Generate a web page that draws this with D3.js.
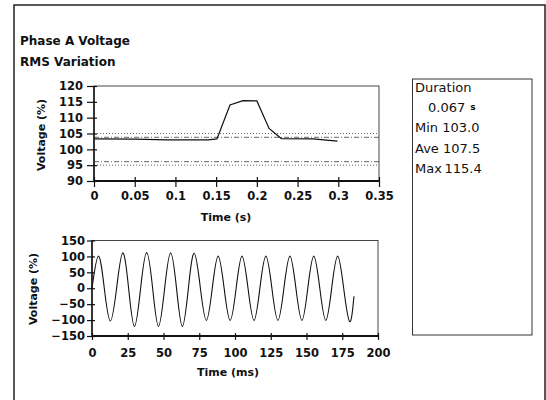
<!DOCTYPE html>
<html>
<head>
<meta charset="utf-8">
<script src="https://d3js.org/d3.v7.min.js"></script>
<style>
  body { margin:0; background:white; }
  text { font-family:"DejaVu Sans", sans-serif; fill:#111; }
  .tick text { font-size:11.5px; font-weight:bold; }
  .title { font-size:12px; font-weight:bold; }
  .axtitle { font-size:11px; font-weight:bold; }
  .stat { font-size:13px; }
</style>
</head>
<body>
<script>
// rms variation (top plot)
var rmsTime = [0, 0.05, 0.09, 0.14, 0.151, 0.167, 0.183, 0.2, 0.215, 0.23, 0.269, 0.299];
var rmsVolt = [103.3, 103.2, 103.0, 103.0, 103.3, 114.0, 115.4, 115.3, 106.6, 103.4, 103.3, 102.6];
var limitVals = [105, 103.8, 96.1, 95];
var limitDash = ["1,2", "5,2,1,2", "5,2,1,2", "1,2"];
var rmsXTicks = [0, 0.05, 0.1, 0.15, 0.2, 0.25, 0.3, 0.35];
var rmsXLabels = ["0", "0.05", "0.1", "0.15", "0.2", "0.25", "0.3", "0.35"];
var rmsYTicks = [90, 95, 100, 105, 110, 115, 120];

// waveform (bottom plot), peaks / zero crossings / troughs
var waveTime = [0, 4.5, 8.6, 12.8, 17.2, 21.5, 25.6, 29.7, 34.0, 38.2, 42.4, 46.5, 50.8, 55.0, 59.1, 63.2,
                67.4, 71.5, 75.8, 80.0, 84.1, 88.2, 92.4, 96.6, 100.8, 104.9, 109.1, 113.3, 117.4, 121.6,
                125.8, 130.0, 134.2, 138.4, 142.6, 146.8, 150.9, 155.1, 159.3, 163.5, 167.6, 171.8, 176.0,
                180.2, 183.2];
var waveVolt = [0, 101, 0, -103, 0, 111, 0, -120, 0, 112, 0, -120, 0, 111, 0, -120,
                0, 110, 0, -101, 0, 101, 0, -101, 0, 101, 0, -101, 0, 101,
                0, -101, 0, 101, 0, -101, 0, 101, 0, -101, 0, 101, 0,
                -105, -25];
var waveXTicks = [0, 25, 50, 75, 100, 125, 150, 175, 200];
var waveYTicks = [-150, -100, -50, 0, 50, 100, 150];

var statNames = ["Min", "Ave", "Max"];
var statVals = [103.0, 107.5, 115.4];
var duration = 0.067;

var width = 546, height = 400;
var svg = d3.select("body").append("svg").attr("width", width).attr("height", height);

// outer frame
svg.append("rect").attr("x", 14).attr("y", 5).attr("width", 531).attr("height", 420)
   .attr("fill", "none").attr("stroke", "#222").attr("stroke-width", 1.5);

svg.append("text").attr("class", "title").attr("x", 20).attr("y", 45).text("Phase A Voltage");
svg.append("text").attr("class", "title").attr("x", 20).attr("y", 66).text("RMS Variation");

function styleAxis(g, horizontal) {
  g.select(".domain").remove();
  g.selectAll(".tick line").attr("stroke", "#111").attr("stroke-width", 1.2);
  if (horizontal) g.selectAll(".tick line").attr("y1", -4);
  else g.selectAll(".tick line").attr("x1", 3);
}

// ---------- top plot
var x1 = d3.scaleLinear().domain([0, 0.35]).range([94, 379]);
var y1 = d3.scaleLinear().domain([90, 120]).range([181, 86]);

svg.append("rect").attr("x", x1(0)).attr("y", y1(120)).attr("width", x1(0.35) - x1(0))
   .attr("height", y1(90) - y1(120)).attr("fill", "none").attr("stroke", "#333").attr("stroke-width", 0.9);

svg.selectAll(".limit").data(limitVals).enter().append("line")
   .attr("x1", x1(0)).attr("x2", x1(0.35))
   .attr("y1", function(d){ return y1(d); }).attr("y2", function(d){ return y1(d); })
   .attr("stroke", "#555").attr("stroke-width", 0.9)
   .attr("stroke-dasharray", function(d, i){ return limitDash[i]; });

var gx1 = svg.append("g").attr("transform", "translate(0," + y1(90) + ")")
   .call(d3.axisBottom(x1).tickValues(rmsXTicks).tickSize(6).tickPadding(5)
          .tickFormat(function(d, i){ return rmsXLabels[i]; }));
styleAxis(gx1, true);
var gy1 = svg.append("g").attr("transform", "translate(" + x1(0) + ",0)")
   .call(d3.axisLeft(y1).tickValues(rmsYTicks).tickSize(7).tickPadding(4));
styleAxis(gy1, false);

svg.append("line").attr("x1", x1(0)).attr("x2", x1(0.35)).attr("y1", y1(90)).attr("y2", y1(90))
   .attr("stroke", "#111").attr("stroke-width", 2);
svg.append("line").attr("x1", x1(0)).attr("x2", x1(0)).attr("y1", y1(120)).attr("y2", y1(90))
   .attr("stroke", "#111").attr("stroke-width", 1.5);

svg.append("path").datum(d3.range(rmsTime.length))
   .attr("fill", "none").attr("stroke", "#111").attr("stroke-width", 1.2)
   .attr("d", d3.line().x(function(i){ return x1(rmsTime[i]); }).y(function(i){ return y1(rmsVolt[i]); }));

svg.append("text").attr("class", "axtitle").attr("x", 226).attr("y", 221)
   .attr("text-anchor", "middle").text("Time (s)");
svg.append("text").attr("class", "axtitle").attr("transform", "translate(41,135) rotate(-90)")
   .attr("text-anchor", "middle").attr("dy", "0.35em").text("Voltage (%)");

// ---------- bottom plot
var x2 = d3.scaleLinear().domain([0, 200]).range([92, 378]);
var y2 = d3.scaleLinear().domain([-150, 150]).range([336, 240.5]);

svg.append("rect").attr("x", x2(0)).attr("y", y2(150)).attr("width", x2(200) - x2(0))
   .attr("height", y2(-150) - y2(150)).attr("fill", "none").attr("stroke", "#333").attr("stroke-width", 0.9);

var gx2 = svg.append("g").attr("transform", "translate(0," + y2(-150) + ")")
   .call(d3.axisBottom(x2).tickValues(waveXTicks).tickSize(4).tickPadding(9));
styleAxis(gx2, true);
gx2.selectAll(".tick line").attr("y1", -3);
var gy2 = svg.append("g").attr("transform", "translate(" + x2(0) + ",0)")
   .call(d3.axisLeft(y2).tickValues(waveYTicks).tickSize(5).tickPadding(2));
styleAxis(gy2, false);

svg.append("line").attr("x1", x2(0)).attr("x2", x2(200)).attr("y1", y2(-150)).attr("y2", y2(-150))
   .attr("stroke", "#111").attr("stroke-width", 2);
svg.append("line").attr("x1", x2(0)).attr("x2", x2(0)).attr("y1", y2(150)).attr("y2", y2(-150))
   .attr("stroke", "#111").attr("stroke-width", 1.5);

svg.append("path").datum(d3.range(waveTime.length))
   .attr("fill", "none").attr("stroke", "#111").attr("stroke-width", 1.1)
   .attr("d", d3.line().curve(d3.curveNatural)
                .x(function(i){ return x2(waveTime[i]); }).y(function(i){ return y2(waveVolt[i]); }));

svg.append("text").attr("class", "axtitle").attr("x", 228).attr("y", 376)
   .attr("text-anchor", "middle").text("Time (ms)");
svg.append("text").attr("class", "axtitle").attr("transform", "translate(33,289) rotate(-90)")
   .attr("text-anchor", "middle").attr("dy", "0.35em").text("Voltage (%)");

// ---------- info box
svg.append("rect").attr("x", 412.5).attr("y", 79).attr("width", 119.5).attr("height", 256)
   .attr("fill", "none").attr("stroke", "#333").attr("stroke-width", 1);
svg.append("text").attr("class", "stat").attr("x", 415).attr("y", 92).text("Duration");
var dur = svg.append("text").attr("class", "stat").attr("x", 428).attr("y", 112).text(d3.format(".3f")(duration));
dur.append("tspan").attr("dx", 5).attr("dy", -2).style("font-size", "9px").style("font-weight", "bold").text("s");
svg.selectAll(".statline").data(statNames).enter().append("text").attr("class", "stat")
   .attr("x", 415).attr("y", function(d, i){ return 132 + i * 20.5; })
   .text(function(d, i){ return d + (d === "Max" ? "\u2009" : " ") + d3.format(".1f")(statVals[i]); });
</script>
</body>
</html>
